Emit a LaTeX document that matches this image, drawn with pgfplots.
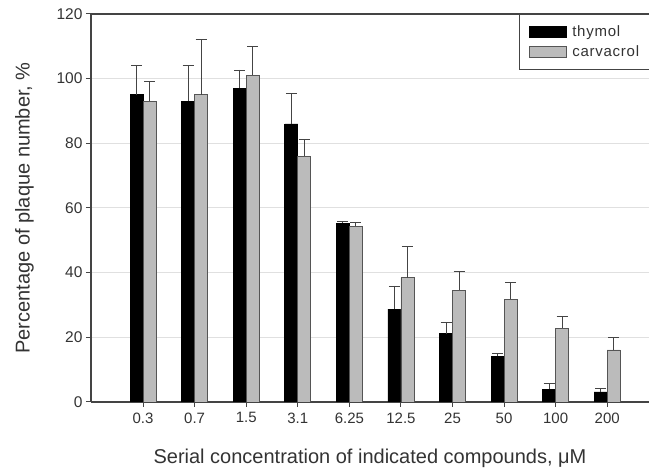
\documentclass[border=0pt]{standalone}
\usepackage{pgfplots}
\pgfplotsset{compat=1.18}
\usepackage{fontspec}
\setmainfont{Liberation Sans}
\definecolor{axisgray}{HTML}{444444}
\definecolor{bargray}{HTML}{BBBBBB}
\definecolor{baredge}{HTML}{555555}
\definecolor{gridgray}{HTML}{E0E0E0}
\definecolor{textgray}{HTML}{333333}
\pgfplotstableread{
x y e
0 95 9
1 93 11
2 97 5.7
3 86 9.3
4 55.3 0.4
5 28.7 7.2
6 21.1 3.6
7 14.1 0.8
8 3.9 1.8
9 3.1 1.2
}\thymol
\pgfplotstableread{
x y e
0 93 6
1 95 17
2 101 9
3 76 5.2
4 54.4 1.1
5 38.5 9.5
6 34.5 5.9
7 31.8 5.2
8 22.8 3.8
9 16.1 3.9
}\carvacrol
\begin{document}
\begin{tikzpicture}
\begin{axis}[
  scale only axis, width=558pt, height=388pt,
  ybar=0pt, bar width=13pt,
  xmin=-1.01, xmax=9.81, ymin=0, ymax=120,
  axis x line=box, axis y line=left,
  axis line style={-, draw=axisgray, line width=1.2pt},
  ytick={0,20,...,120},
  xtick={0,...,9},
  xticklabels={0.3,0.7,1.5,3.1,6.25,12.5,25,50,100,200},
  tick align=outside, major tick length=5pt,
  xtick pos=bottom, ytick pos=left,
  ymajorgrids, grid style={gridgray, line width=1pt},
  tick style={axisgray, line width=1pt},
  y tick label style={font=\fontsize{15.5}{18}\selectfont, text=textgray},
  x tick label style={font=\fontsize{15}{17}\selectfont, text=textgray, yshift=-2pt},
  /pgf/number format/assume math mode=true,
  xlabel={Serial concentration of indicated compounds, μM},
  ylabel={Percentage of plaque number, \%},
  label style={font=\fontsize{20}{23}\selectfont, text=textgray},
  xlabel style={yshift=-19pt},
  ylabel style={yshift=16pt},
  legend style={at={(0.767,1)}, anchor=north west, draw=axisgray, line width=1pt,
    font=\fontsize{15}{17}\selectfont\addfontfeatures{LetterSpace=5}, text=textgray,
    inner xsep=8pt, inner ysep=9pt, row sep=4pt,
    /tikz/every even column/.append style={text width=80pt}},
  legend image code/.code={\draw[#1, line width=0.8pt] (0pt,-5.5pt) rectangle (37pt,5.5pt);
    \path (-2pt,0pt) (40pt,0pt);},
  legend cell align=left,
]
\addplot[fill=black, draw=black, line width=0.8pt,
  error bars/.cd, y dir=plus, y explicit,
  error bar style={line width=0.8pt, draw=axisgray},
  error mark options={rotate=90, mark size=5.5pt, line width=0.8pt, draw=axisgray}]
  table[x=x, y=y, y error=e] {\thymol};
\addplot[fill=bargray, draw=baredge, line width=0.8pt,
  error bars/.cd, y dir=plus, y explicit,
  error bar style={line width=0.8pt, draw=axisgray},
  error mark options={rotate=90, mark size=5.5pt, line width=0.8pt, draw=axisgray}]
  table[x=x, y=y, y error=e] {\carvacrol};
\legend{thymol, carvacrol}
\end{axis}
\pgfresetboundingbox
\useasboundingbox (current axis.south west) ++(-91pt,-66pt) rectangle ++(649pt,468pt);
\end{tikzpicture}
\end{document}
